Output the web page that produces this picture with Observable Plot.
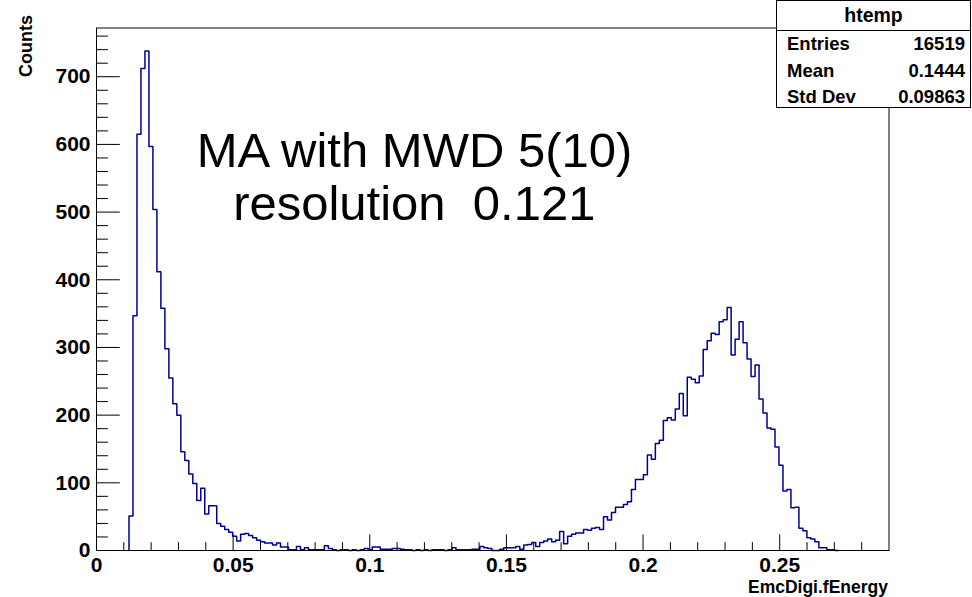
<!DOCTYPE html>
<html>
<head>
<meta charset="utf-8">
<script src="https://cdn.jsdelivr.net/npm/d3@7"></script>
<script src="https://cdn.jsdelivr.net/npm/@observablehq/plot@0.6"></script>
<style>
  body { margin: 0; background: #fff; }
  #wrap { position: relative; width: 972px; height: 597px; font-family: "Liberation Sans", Arial, Helvetica, sans-serif; }
  #wrap svg text { white-space: pre; }
  #stats { position: absolute; left: 776px; top: 0; width: 195px; height: 108px; box-sizing: border-box;
           border: 1px solid #000; background: #fff; font-weight: bold; font-size: 18.5px; color: #000; }
  #stats .hd { height: 29px; line-height: 29px; text-align: center; border-bottom: 1px solid #000; font-size: 19.5px; }
  #stats .row { height: 26.5px; line-height: 26.5px; display: flex; justify-content: space-between; padding: 0 5px 0 10px; }
</style>
</head>
<body>
<div id="wrap"></div>
<script>
// ---- histogram definition ----
const binStart = 0.01189;     // lower edge of first non-empty bin
const binWidth = 0.0014592;   // bin width
const counts = [
  51, 347, 615, 712, 738, 597, 504, 412, 358, 298,
  255, 217, 200, 146, 133, 113, 99, 74, 92, 54,
  66, 66, 40, 36, 31, 27, 21, 14, 24, 25,
  22, 19, 15, 13, 11, 11, 8, 11, 5, 5,
  1, 1, 6, 1, 4, 1, 1, 1, 1, 7,
  3, 1, 0, 1, 1, 0, 1, 0, 1, 3,
  1, 5, 5, 2, 2, 2, 3, 3, 2, 1,
  1, 0, 1, 0, 1, 0, 1, 1, 1, 0,
  1, 4, 1, 1, 1, 1, 2, 2, 6, 4,
  3, 0, 0, 2, 4, 4, 4, 6, 2, 8,
  9, 12, 6, 12, 14, 17, 13, 15, 28, 10,
  21, 24, 26, 26, 31, 30, 33, 34, 31, 50,
  45, 56, 64, 64, 68, 72, 90, 105, 105, 112,
  141, 135, 158, 163, 192, 196, 193, 209, 232, 199,
  256, 253, 248, 258, 297, 310, 321, 319, 338, 341,
  359, 289, 312, 338, 307, 283, 257, 274, 224, 203,
  181, 179, 153, 126, 88, 90, 63, 64, 33, 29,
  19, 17, 13, 4, 4, 1, 1, 0
];

// ---- axes ----
const xDomain = [0, 0.29];
const yDomain = [0, 772];
const xMajor = [0, 0.05, 0.1, 0.15, 0.2, 0.25];
const xTickLabels = ["0", "0.05", "0.1", "0.15", "0.2", "0.25"];
const xMinor = [0.01,0.02,0.03,0.04,0.06,0.07,0.08,0.09,0.11,0.12,0.13,0.14,0.16,0.17,0.18,0.19,0.21,0.22,0.23,0.24,0.26,0.27,0.28];
const yMajor = [0, 100, 200, 300, 400, 500, 600, 700];
const yTickLabels = ["0", "100", "200", "300", "400", "500", "600", "700"];
const yMinor = [20,40,60,80,120,140,160,180,220,240,260,280,320,340,360,380,420,440,460,480,520,540,560,580,620,640,660,680,720,740,760];
const xTitle = "EmcDigi.fEnergy";
const yTitle = "Counts";
const noteLines = ["MA with MWD 5(10)", " resolution  0.121"];
const statsName = "htemp";
const statsRows = [["Entries", "16519"], ["Mean", "0.1444"], ["Std Dev", "0.09863"]];

// ---- step outline points built from the bins ----
const nb = counts.length;
const pts = [{x: binStart, y: 0}];
counts.forEach((c, i) => pts.push({x: binStart + i * binWidth, y: c}));
pts.push({x: binStart + nb * binWidth, y: counts[nb - 1]});
pts.push({x: binStart + nb * binWidth, y: 0});

const W = 972, H = 597, mL = 96, mR = 83.5, mT = 27.5, mB = 47;
const plotW = W - mL - mR, plotH = H - mT - mB;
const font = "Liberation Sans, Arial, Helvetica, sans-serif";

const chart = Plot.plot({
  width: W, height: H,
  marginLeft: mL, marginRight: mR, marginTop: mT, marginBottom: mB,
  x: {domain: xDomain, axis: null},
  y: {domain: yDomain, axis: null},
  style: {fontFamily: font, background: "#fff", color: "#000"},
  marks: [
    Plot.line(pts, {x: "x", y: "y", curve: "step-after", stroke: "#000099", strokeWidth: 1.5}),
    Plot.tickX(xMinor, {x: d => d, insetTop: plotH - 7.8, stroke: "#000", strokeWidth: 1}),
    Plot.tickX(xMajor, {x: d => d, insetTop: plotH - 15.7, stroke: "#000", strokeWidth: 1}),
    Plot.tickY(yMinor, {y: d => d, insetRight: plotW - 11.9, stroke: "#000", strokeWidth: 1}),
    Plot.tickY(yMajor, {y: d => d, insetRight: plotW - 23.8, stroke: "#000", strokeWidth: 1}),
    Plot.frame({stroke: "#000", strokeWidth: 1}),
    Plot.text(xMajor, {x: d => d, text: (d, i) => xTickLabels[i], frameAnchor: "bottom", lineAnchor: "top", dy: 7, fontSize: 21, fontWeight: "bold"}),
    Plot.text(yMajor, {y: d => d, text: (d, i) => yTickLabels[i], frameAnchor: "left", textAnchor: "end", lineAnchor: "middle", dx: -6, fontSize: 21, fontWeight: "bold"}),
    Plot.text([xTitle], {text: d => d, frameAnchor: "bottom-right", textAnchor: "end", lineAnchor: "bottom", dy: 42, dx: -1, fontSize: 17.5, fontWeight: "bold"}),
    Plot.text([yTitle], {text: d => d, frameAnchor: "top-left", rotate: -90, textAnchor: "start", lineAnchor: "middle", dx: -70, dy: 49, fontSize: 18, fontWeight: "bold"}),
    Plot.text([noteLines[0]], {text: d => d, frameAnchor: "top-left", textAnchor: "middle", lineAnchor: "bottom", dx: 318, dy: 139, fontSize: 49}),
    Plot.text([noteLines[1]], {text: d => d, frameAnchor: "top-left", textAnchor: "middle", lineAnchor: "bottom", dx: 311, dy: 192, fontSize: 49})
  ]
});

const wrap = document.getElementById("wrap");
wrap.appendChild(chart);

// stats box (ROOT-style statistics pave)
const st = document.createElement("div");
st.id = "stats";
const hd = document.createElement("div");
hd.className = "hd";
hd.textContent = statsName;
st.appendChild(hd);
for (const [k, v] of statsRows) {
  const r = document.createElement("div");
  r.className = "row";
  const a = document.createElement("span"); a.textContent = k;
  const b = document.createElement("span"); b.textContent = v;
  r.appendChild(a); r.appendChild(b);
  st.appendChild(r);
}
wrap.appendChild(st);
</script>
</body>
</html>
